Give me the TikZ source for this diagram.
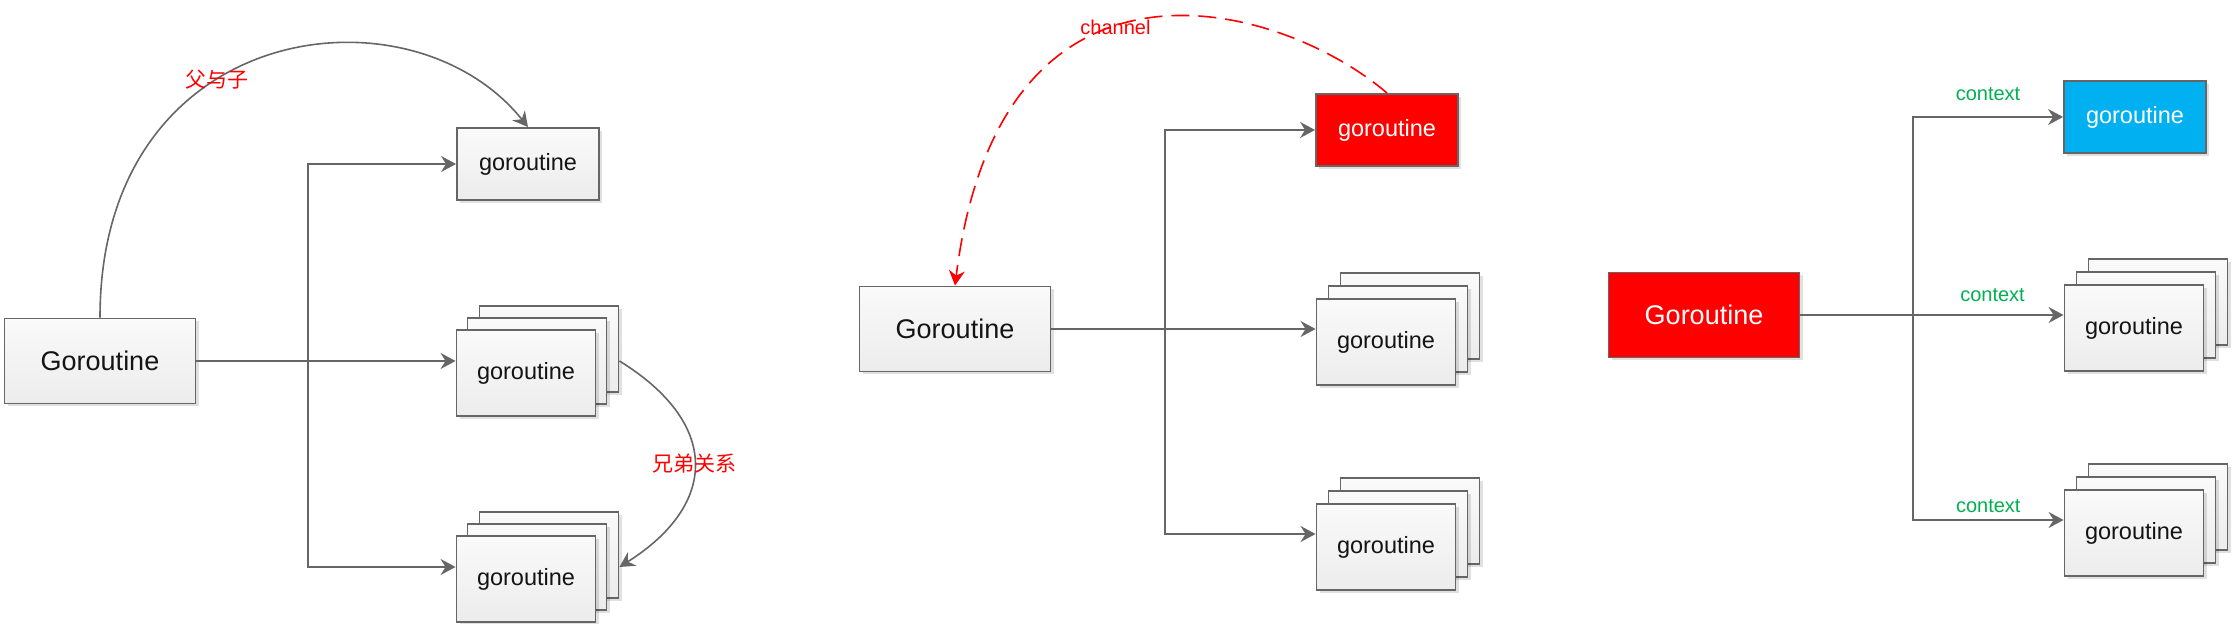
\documentclass[tikz,border=0pt]{standalone}
\usepackage{fontspec}
\setmainfont{Liberation Sans}
\newfontfamily\cjkfont{Noto Sans CJK SC}
\usetikzlibrary{positioning}
\usetikzlibrary{calc}
\usetikzlibrary{arrows.meta,shadows}

\definecolor{linegray}{RGB}{102,102,102}
\definecolor{shadetop}{RGB}{250,250,250}
\definecolor{shadebottom}{RGB}{236,236,236}
\definecolor{gored}{RGB}{255,0,0}
\definecolor{gocyan}{RGB}{0,176,240}
\definecolor{ctxgreen}{RGB}{0,176,80}

\begin{document}
\begin{tikzpicture}[x = 0.5pt, y = -0.5pt,
    gobox/.style    = {draw = linegray, line width = 0.95pt, inner sep = 0pt,
                       drop shadow = {shadow xshift = 1.5pt, shadow yshift = -1.5pt,
                                      fill = black, opacity = 0.12}},
    plain/.style    = {gobox, top color = shadetop, bottom color = shadebottom, text = black!92},
    flat/.style     = {gobox, fill = #1, text = white},
    root/.style     = {minimum width = 95.5pt, minimum height = 42.5pt, font = \fontsize{13.5}{16}\selectfont},
    single/.style   = {minimum width = 71pt, minimum height = 36pt, font = \fontsize{11.75}{14}\selectfont},
    stackbox/.style = {plain, minimum width = 69.5pt, minimum height = 43pt, font = \fontsize{11.75}{14}\selectfont},
    link/.style     = {draw = linegray, line width = 0.8pt, -{Stealth[length = 7.5pt, width = 8pt, inset = 2.5pt]}},
    tag/.style      = {inner sep = 0pt, font = \fontsize{10}{12}\selectfont},
    rel/.style      = {tag, text = gored, font = \cjkfont\fontsize{10.5}{12}\selectfont},
    ctx/.style      = {tag, text = ctxgreen}]
\useasboundingbox (0,0) rectangle (2232,624);

% parent and children
\node[plain, root]   (GA) at (100,361) {Goroutine};
\node[plain, single] (TA) at (528,164) {goroutine};
\node[stackbox] (MA3) at (549,349) {};
\node[stackbox] (MA2) at (537,361) {};
\node[stackbox] (MA)  at (526,373) {goroutine};
\node[stackbox] (BA3) at (549,555) {};
\node[stackbox] (BA2) at (537,567) {};
\node[stackbox] (BA)  at (526,579) {goroutine};
\coordinate (JA) at (308,361);

\draw[link] (GA.east) -- (MA.west |- MA2);
\draw[link] (JA) |- (TA.west);
\draw[link] (JA) |- (BA.west |- BA2);
\draw[link] (GA.north) .. controls (100,20) and (410,-20) .. node[rel, pos = 0.4] {父与子} (TA.north);
\draw[link] (MA3.east |- MA2) .. controls (720,423) and (719,504) .. node[rel, pos = 0.5] {兄弟关系} (BA3.east |- BA2);

% channel
\node[plain, root]         (GB) at (955,329) {Goroutine};
\node[flat = gored, single] (TB) at (1387,130) {goroutine};
\node[stackbox] (MB3) at (1410,316) {};
\node[stackbox] (MB2) at (1398,329) {};
\node[stackbox] (MB)  at (1386,342) {goroutine};
\node[stackbox] (BB3) at (1410,521) {};
\node[stackbox] (BB2) at (1398,534) {};
\node[stackbox] (BB)  at (1386,547) {goroutine};
\coordinate (JB) at (1165,329);

\draw[link] (GB.east) -- (MB.west |- MB2);
\draw[link] (JB) |- (TB.west);
\draw[link] (JB) |- (BB.west |- BB2);
\draw[link, draw = gored, dash pattern = on 9pt off 4.5pt] (TB.north) .. controls (1278,0) and (1000,-75) .. node[tag, text = gored, pos = 0.56] {channel} (GB.north);

% context
\node[flat = gored, root]    (GC) at (1704,315) {Goroutine};
\node[flat = gocyan, single] (TC) at (2135,117) {goroutine};
\node[stackbox] (MC3) at (2158,302) {};
\node[stackbox] (MC2) at (2146,315) {};
\node[stackbox] (MC)  at (2134,328) {goroutine};
\node[stackbox] (BC3) at (2158,507) {};
\node[stackbox] (BC2) at (2146,520) {};
\node[stackbox] (BC)  at (2134,533) {goroutine};
\coordinate (JC) at (1913,315);

\draw[link] (GC.east) -- node[ctx, pos = 0.73, above = 6.5pt] {context} (MC.west |- MC2);
\draw[link] (JC) |- node[ctx, pos = 0.75, above = 7.5pt] {context} (TC.west);
\draw[link] (JC) |- node[ctx, pos = 0.75, above = 3.5pt] {context} (BC.west |- BC2);
\end{tikzpicture}
\end{document}
